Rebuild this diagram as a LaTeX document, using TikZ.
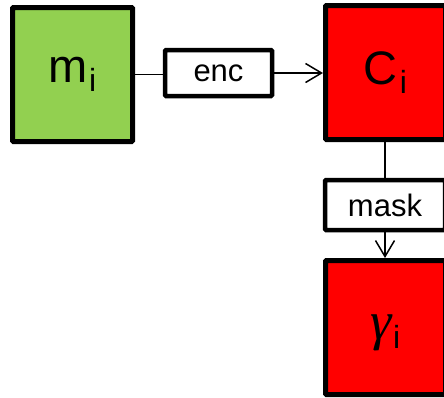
\documentclass[tikz,border=0pt]{standalone}
\usepackage{fontspec}
\setmainfont{Liberation Sans}
\newfontfamily\greekfont{Liberation Serif}
\usetikzlibrary{arrows.meta}

\definecolor{boxgreen}{HTML}{92D050}
\definecolor{boxred}{HTML}{FF0000}

% upright index set below the baseline
\newcommand{\subidx}[1]{\raisebox{-9pt}{\normalfont\fontsize{32}{32}\selectfont #1}}

\begin{document}
\begin{tikzpicture}[x=1pt,y=-1pt,
  bigbox/.style={draw=black, line width=5pt, rounded corners=1pt,
    minimum width=120pt, minimum height=134pt, inner sep=0pt,
    font=\fontsize{47}{47}\selectfont},
  opbox/.style={draw=black, fill=white, line width=4.5pt, rounded corners=1pt,
    inner sep=0pt, font=\fontsize{31}{31}\selectfont},
  link/.style={draw=black, line width=1.5pt},
  flow/.style={link, -{Straight Barb[length=16pt,width=19pt,line width=1.5pt]}}]

  \useasboundingbox (0,0) rectangle (444,397);

  % message, ciphertext and masked value
  \node[bigbox, fill=boxgreen] (m) at (72.5,74.5) {m\kern1pt\subidx{i}};
  \node[bigbox, fill=boxred] (c) at (385.5,72.5) {C\kern2pt\subidx{i}};
  \node[bigbox, fill=boxred] (g) at (385.5,327.5)
    {\raisebox{-12pt}[0pt][0pt]{{\greekfont\itshape\fontsize{54}{54}\selectfont γ}\kern1pt\subidx{i}}};

  % operations
  \node[opbox, minimum width=107pt, minimum height=46pt] (enc) at (218.5,73) {enc};
  \node[opbox, minimum width=120pt, minimum height=50pt] (mask) at (385,205) {mask};

  % connectors
  \draw[link] ([xshift=-5pt]m.east) -- (m.east -| enc.west);
  \draw[flow] (enc.east) -- (c.west |- enc.east);
  \draw[link] (c.south -| mask.north) -- (mask.north);
  \draw[flow] (mask.south) -- (g.north -| mask.south);
\end{tikzpicture}
\end{document}
